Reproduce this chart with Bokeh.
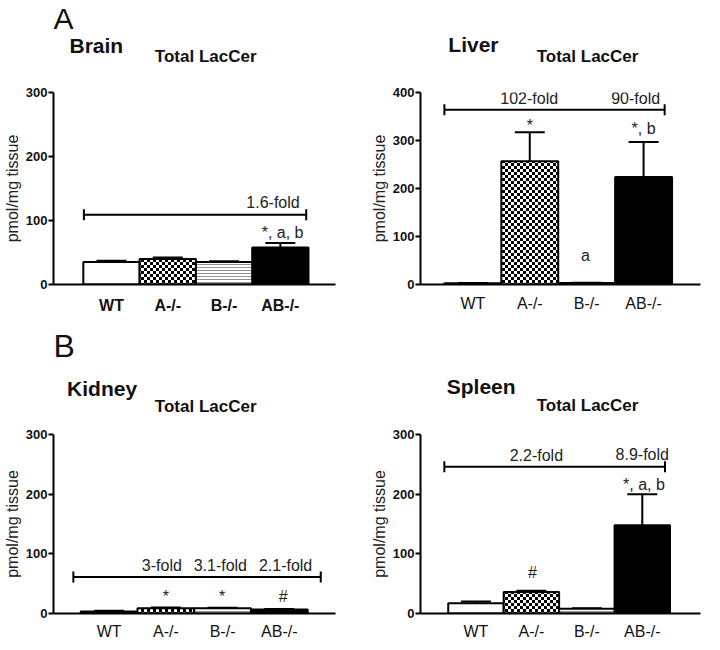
import base64
import struct
import zlib

from bokeh.plotting import figure
from bokeh.layouts import gridplot
from bokeh.models import (ColumnDataSource, Whisker, TeeHead, FixedTicker,
                          Range1d, ImageURLTexture, CDSView, IndexFilter)
from bokeh.core.properties import value
from bokeh.embed import file_html
from bokeh.resources import INLINE

FONT = "Liberation Sans"

# ---------------- data ----------------
groups = ["WT", "A-/-", "B-/-", "AB-/-"]
x_pos = [0, 1, 2, 3]

brain_mean = [35, 40, 35, 58]
brain_err = [2, 2, 1.5, 7]
liver_mean = [2.5, 257, 3, 224]
liver_err = [0.5, 60, 0.5, 73]
kidney_mean = [3.5, 9, 9, 6.5]
kidney_err = [1, 1, 0.5, 1]
spleen_mean = [17, 36, 8, 148]
spleen_err = [3, 2, 1, 52]

brain_yticks = [0, 100, 200, 300]
liver_yticks = [0, 100, 200, 300, 400]
kidney_yticks = [0, 100, 200, 300]
spleen_yticks = [0, 100, 200, 300]

# fold-change brackets: start, end, level
brain_bracket = dict(x0=[-0.49], x1=[3.46], y=[109])
liver_bracket = dict(x0=[-0.5], x1=[3.37], y=[364])
kidney_bracket = dict(x0=[-0.63], x1=[3.73], y=[61])
spleen_bracket = dict(x0=[-0.57], x1=[3.41], y=[246])

# annotation texts (vertical position = middle of the text)
brain_notes = ["1.6-fold", "*, a, b"]
brain_note_x = [2.87, 3.04]
brain_note_y = [128, 82]
liver_notes = ["102-fold", "90-fold", "*", "*, b", "a"]
liver_note_x = [0.99, 2.86, 1.0, 3.0, 1.98]
liver_note_y = [387, 387, 331, 325, 61]
kidney_notes = ["3-fold", "3.1-fold", "2.1-fold", "*", "*", "#"]
kidney_note_x = [0.93, 1.96, 3.11, 1.0, 1.99, 3.07]
kidney_note_y = [80, 80, 80, 29, 29, 29]
spleen_notes = ["2.2-fold", "8.9-fold", "#", "*, a, b"]
spleen_note_x = [1.09, 3.0, 1.02, 3.03]
spleen_note_y = [265, 266, 69, 217]

panel_names = ["Brain", "Liver", "Kidney", "Spleen"]
chart_title = "Total LacCer"


# ---------------- checkerboard texture (6x6 px PNG) ----------------
def checker_png():
    rows = b""
    for r in range(6):
        if r < 3:
            px = bytes([0, 0, 0, 255, 255, 255])
        else:
            px = bytes([255, 255, 255, 0, 0, 0])
        rows += b"\x00" + px

    def chunk(tag, data):
        c = struct.pack(">I", len(data)) + tag + data
        return c + struct.pack(">I", zlib.crc32(tag + data) & 0xffffffff)

    png = b"\x89PNG\r\n\x1a\n"
    png += chunk(b"IHDR", struct.pack(">IIBBBBB", 6, 6, 8, 0, 0, 0, 0))
    png += chunk(b"IDAT", zlib.compress(rows))
    png += chunk(b"IEND", b"")
    return "data:image/png;base64," + base64.b64encode(png).decode()


checker = ImageURLTexture(url=checker_png())


def header(width, height, xr, yr, texts):
    h = figure(width=width, height=height, output_backend="svg", toolbar_location=None,
               title=None, x_range=Range1d(*xr), y_range=Range1d(*yr), min_border=0,
               x_axis_location=None, y_axis_location=None)
    h.outline_line_color = None
    h.xgrid.visible = False
    h.ygrid.visible = False
    for (t, x, y, align, size, style) in texts:
        h.text(x=[x], y=[y], text=[t], text_align=align, text_baseline="middle",
               text_font=value(FONT), text_font_size=size, text_font_style=style,
               text_color="#111")
    return h


def panel(mean, err, yticks, bracket, notes, nx, ny, cfg):
    p = figure(width=352, height=cfg["height"], output_backend="svg", toolbar_location=None,
               title=None, x_range=Range1d(*cfg["xr"]), y_range=Range1d(0, yticks[-1]),
               min_border=0)
    p.min_border_left, p.min_border_right, p.min_border_top, p.min_border_bottom = cfg["borders"]
    p.outline_line_color = None
    p.xgrid.visible = False
    p.ygrid.visible = False

    src = ColumnDataSource(dict(x=x_pos, top=mean, lo=mean,
                                hi=[m + e for m, e in zip(mean, err)],
                                fill=["white", "white", "white", "black"]))
    p.vbar(x="x", top="top", width=1, source=src, view=CDSView(filter=IndexFilter([0, 3])),
           fill_color="fill", line_color="black", line_width=2)
    # A-/-: checkerboard (dot hatch underneath as a fallback)
    p.vbar(x="x", top="top", width=1, source=src, view=CDSView(filter=IndexFilter([1])),
           fill_color="white", line_color=None,
           hatch_pattern="dot", hatch_color="black", hatch_scale=4, hatch_weight=3)
    p.vbar(x="x", top="top", width=1, source=src, view=CDSView(filter=IndexFilter([1])),
           fill_alpha=0, line_color="black", line_width=2,
           hatch_pattern=value("checker"), hatch_extra={"checker": checker})
    # B-/-: horizontal lines
    p.vbar(x="x", top="top", width=1, source=src, view=CDSView(filter=IndexFilter([2])),
           fill_color="white", line_color="black", line_width=2,
           hatch_pattern="horizontal_line", hatch_color="#444", hatch_scale=3, hatch_weight=0.6)

    p.add_layout(Whisker(source=src, base="x", lower="lo", upper="hi", dimension="height",
                         line_color="black", line_width=2, lower_head=None,
                         upper_head=TeeHead(size=30, line_width=2, line_color="black")))

    bsrc = ColumnDataSource(bracket)
    p.add_layout(Whisker(source=bsrc, base="y", lower="x0", upper="x1", dimension="width",
                         line_color="black", line_width=2,
                         lower_head=TeeHead(size=11, line_width=2, line_color="black"),
                         upper_head=TeeHead(size=11, line_width=2, line_color="black")))

    p.text(x=nx, y=ny, text=notes, text_align="center", text_baseline="middle",
           text_font=value(FONT), text_font_size="16px", text_color="#222")

    xa = p.xaxis[0]
    xa.ticker = FixedTicker(ticks=x_pos)
    xa.major_label_overrides = {x: g for x, g in zip(x_pos, groups)}
    xa.major_tick_line_color = None
    xa.minor_tick_line_color = None
    xa.axis_line_width = 2
    xa.axis_line_color = "black"
    xa.major_label_text_font = FONT
    xa.major_label_text_font_size = cfg["xfs"]
    xa.major_label_text_font_style = cfg["xstyle"]
    xa.major_label_text_color = "#111"
    xa.major_label_standoff = cfg["xstand"]

    ya = p.yaxis[0]
    ya.ticker = FixedTicker(ticks=yticks)
    ya.minor_tick_line_color = None
    ya.major_tick_in = 0
    ya.major_tick_out = 5
    ya.major_tick_line_width = 2
    ya.axis_line_width = 2
    ya.axis_line_color = "black"
    ya.major_label_text_font = FONT
    ya.major_label_text_font_size = "13px"
    ya.major_label_text_font_style = "bold"
    ya.major_label_text_color = "#111"
    ya.major_label_standoff = 1
    ya.axis_label = "pmol/mg tissue"
    ya.axis_label_text_font = FONT
    ya.axis_label_text_font_size = "16px"
    ya.axis_label_text_font_style = "normal"
    ya.axis_label_text_color = "#222"
    ya.axis_label_standoff = 2
    return p


# header texts: (text, x, y-middle, align, size, style) in page pixels
h1 = header(352, 70, (8, 360), (70, 0), [
    ("A", 8, 18, "left", "30px", "normal"),
    (panel_names[0], 28, 44.5, "left", "21px", "bold"),
    (chart_title, 198, 56, "center", "17px", "bold")])
h2 = header(352, 70, (360, 712), (70, 0), [
    (panel_names[1], 395, 43.5, "left", "21px", "bold"),
    (chart_title, 570, 56, "center", "17px", "bold")])
h3 = header(352, 95, (8, 360), (420, 325), [
    ("B", 8, 345, "left", "32px", "normal"),
    (panel_names[2], 25, 388, "left", "21px", "bold"),
    (chart_title, 198, 406, "center", "17px", "bold")])
h4 = header(352, 95, (360, 712), (420, 325), [
    (panel_names[3], 393, 386, "left", "21px", "bold"),
    (chart_title, 570, 404.5, "center", "17px", "bold")])

p1 = panel(brain_mean, brain_err, brain_yticks, brain_bracket, brain_notes, brain_note_x, brain_note_y,
           dict(height=255, xr=(-1.03, 3.98), borders=(46, 17, 22, 41), xfs="16px", xstyle="bold", xstand=6))
p2 = panel(liver_mean, liver_err, liver_yticks, liver_bracket, liver_notes, liver_note_x, liver_note_y,
           dict(height=255, xr=(-0.92, 4.0), borders=(68, 4, 21, 41), xfs="16px", xstyle="normal", xstand=4))
p3 = panel(kidney_mean, kidney_err, kidney_yticks, kidney_bracket, kidney_notes, kidney_note_x, kidney_note_y,
           dict(height=222, xr=(-0.98, 3.99), borders=(49, 17, 14, 17), xfs="16px", xstyle="normal", xstand=3))
p4 = panel(spleen_mean, spleen_err, spleen_yticks, spleen_bracket, spleen_notes, spleen_note_x, spleen_note_y,
           dict(height=222, xr=(-1.0, 4.05), borders=(68, 4, 13, 17), xfs="16px", xstyle="normal", xstand=3))

grid = gridplot([[h1, h2], [p1, p2], [h3, h4], [p3, p4]], toolbar_location=None)

open("out.html", "w").write(file_html(grid, INLINE))
